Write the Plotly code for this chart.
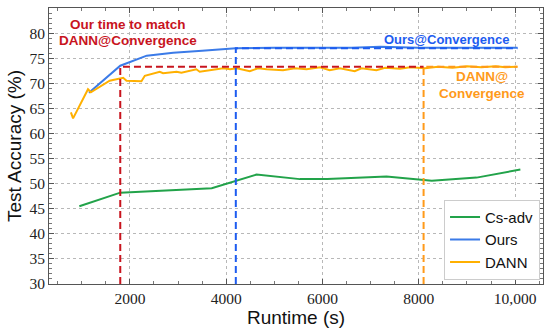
import plotly.graph_objects as go

# ---- data ----
cs_x = [950, 1800, 3700, 4630, 5530, 6100, 7330, 8270, 9200, 10110]
cs_y = [45.5, 48.2, 49.1, 51.8, 50.9, 50.9, 51.4, 50.6, 51.2, 52.8]

ours_x = [1150, 1800, 2350, 2900, 3500, 4200, 5000, 6000, 6600, 7200, 8000, 9000, 10050]
ours_y = [68.1, 73.5, 75.5, 76.1, 76.5, 77.0, 77.1, 77.1, 77.1, 77.3, 77.1, 77.1, 77.1]

dann_x = [775, 820, 1130, 1190, 1580, 1860, 1930, 2240, 2310, 2620, 2690, 2970, 3070,
          3380, 3450, 3760, 3940, 4080, 4220, 4490, 4660, 4840, 5180, 5430, 5670, 5950,
          6150, 6360, 6670, 6810, 7120, 7300, 7610, 7820, 8130, 8400, 8700, 9000, 9300,
          9600, 9800, 10050]
dann_y = [64.2, 63.0, 68.8, 68.2, 70.5, 71.1, 70.5, 70.4, 71.5, 72.3, 72.0, 72.3, 72.1,
          72.8, 72.3, 72.7, 73.0, 72.8, 73.0, 72.4, 73.0, 72.8, 72.6, 73.0, 72.8, 73.2,
          72.6, 73.0, 72.4, 73.0, 72.6, 73.1, 72.9, 73.2, 73.0, 73.3, 73.1, 73.4, 73.2,
          73.4, 73.2, 73.3]

# convergence markers: time, accuracy
match_time, dann_conv_acc = 1800, 73.3
ours_conv_time, ours_conv_acc = 4200, 77.0
dann_conv_time = 8100
end_time = 10050
y_min, y_max = 30, 85
x_min, x_max = 320, 10580

x_ticks = [2000, 4000, 6000, 8000, 10000]
x_tick_labels = ["2000", "4000", "6000", "8000", "10,000"]
y_ticks = list(range(30, 90, 5))

GREEN = "#22a34a"
BLUE = "#3b7be8"
ORANGE = "#ffb000"
RED_D = "#c8141e"
BLUE_D = "#1d5cf0"
ORANGE_D = "#ff9a1a"

fig = go.Figure()
fig.add_trace(go.Scatter(x=cs_x, y=cs_y, mode="lines", name="Cs-adv",
                         line=dict(color=GREEN, width=2)))
fig.add_trace(go.Scatter(x=ours_x, y=ours_y, mode="lines", name="Ours",
                         line=dict(color=BLUE, width=2)))
fig.add_trace(go.Scatter(x=dann_x, y=dann_y, mode="lines", name="DANN",
                         line=dict(color=ORANGE, width=2)))

dash = "7px,4px"
fig.add_trace(go.Scatter(x=[match_time, match_time, dann_conv_time],
                         y=[y_min, dann_conv_acc, dann_conv_acc], mode="lines",
                         showlegend=False, hoverinfo="skip",
                         line=dict(color=RED_D, width=2, dash=dash)))
fig.add_trace(go.Scatter(x=[ours_conv_time, ours_conv_time, end_time],
                         y=[y_min, ours_conv_acc, ours_conv_acc], mode="lines",
                         showlegend=False, hoverinfo="skip",
                         line=dict(color=BLUE_D, width=2, dash=dash)))
fig.add_trace(go.Scatter(x=[dann_conv_time, dann_conv_time, end_time],
                         y=[y_min, dann_conv_acc, dann_conv_acc], mode="lines",
                         showlegend=False, hoverinfo="skip",
                         line=dict(color=ORANGE_D, width=2, dash=dash)))

ann_font = "Liberation Sans"
def label(x, y, text, color, anchor="center", size=13.5):
    fig.add_annotation(x=x, y=y, text="<b>" + text + "</b>", showarrow=False,
                       font=dict(family=ann_font, size=size, color=color),
                       xanchor=anchor, yanchor="middle")

label(1960, 81.8, "Our time to match", RED_D)
label(1960, 78.6, "DANN@Convergence", RED_D)
label(9913, 78.8, "Ours@Convergence", BLUE_D, anchor="right", size=13)
label(9310, 71.3, "DANN@", ORANGE_D)
label(9310, 67.9, "Convergence", ORANGE_D)

axis_common = dict(
    showline=True, linecolor="#555555", linewidth=1, mirror="allticks",
    ticks="inside", ticklen=5, tickcolor="#555555",
    showgrid=True, gridcolor="#b8b8b8", griddash="dot", gridwidth=1,
    zeroline=False, automargin=False,
)
tick_font = dict(family="Liberation Serif", size=15.5, color="#222")

fig.update_xaxes(range=[x_min, x_max], tickvals=x_ticks, ticktext=x_tick_labels,
                 tickfont=tick_font,
                 title=dict(text="Runtime (s)", standoff=1,
                            font=dict(family="Liberation Sans", size=19, color="#111")),
                 minor=dict(dtick=500, tick0=0, ticks="inside", ticklen=3, tickcolor="#777", showgrid=False),
                 **axis_common)
fig.update_yaxes(range=[y_min, y_max], tickvals=y_ticks,
                 tickfont=tick_font,
                 title=dict(text="Test Accuracy (%)", standoff=2,
                            font=dict(family="Liberation Sans", size=19, color="#111")),
                 minor=dict(dtick=1, tick0=0, ticks="inside", ticklen=3, tickcolor="#777", showgrid=False),
                 **axis_common)

fig.update_layout(
    width=550, height=330,
    margin=dict(l=49, r=7, t=8, b=46),
    paper_bgcolor="white", plot_bgcolor="white",
    legend=dict(x=0.994, y=0.015, xanchor="right", yanchor="bottom",
                bgcolor="white", bordercolor="#cccccc", borderwidth=1,
                font=dict(family="Liberation Sans", size=15, color="#111"),
                itemwidth=30, tracegroupgap=0),
)

fig.write_html("out.html", config={"displayModeBar": False},
               post_script="document.body.style.margin='0';document.body.style.padding='0';")
